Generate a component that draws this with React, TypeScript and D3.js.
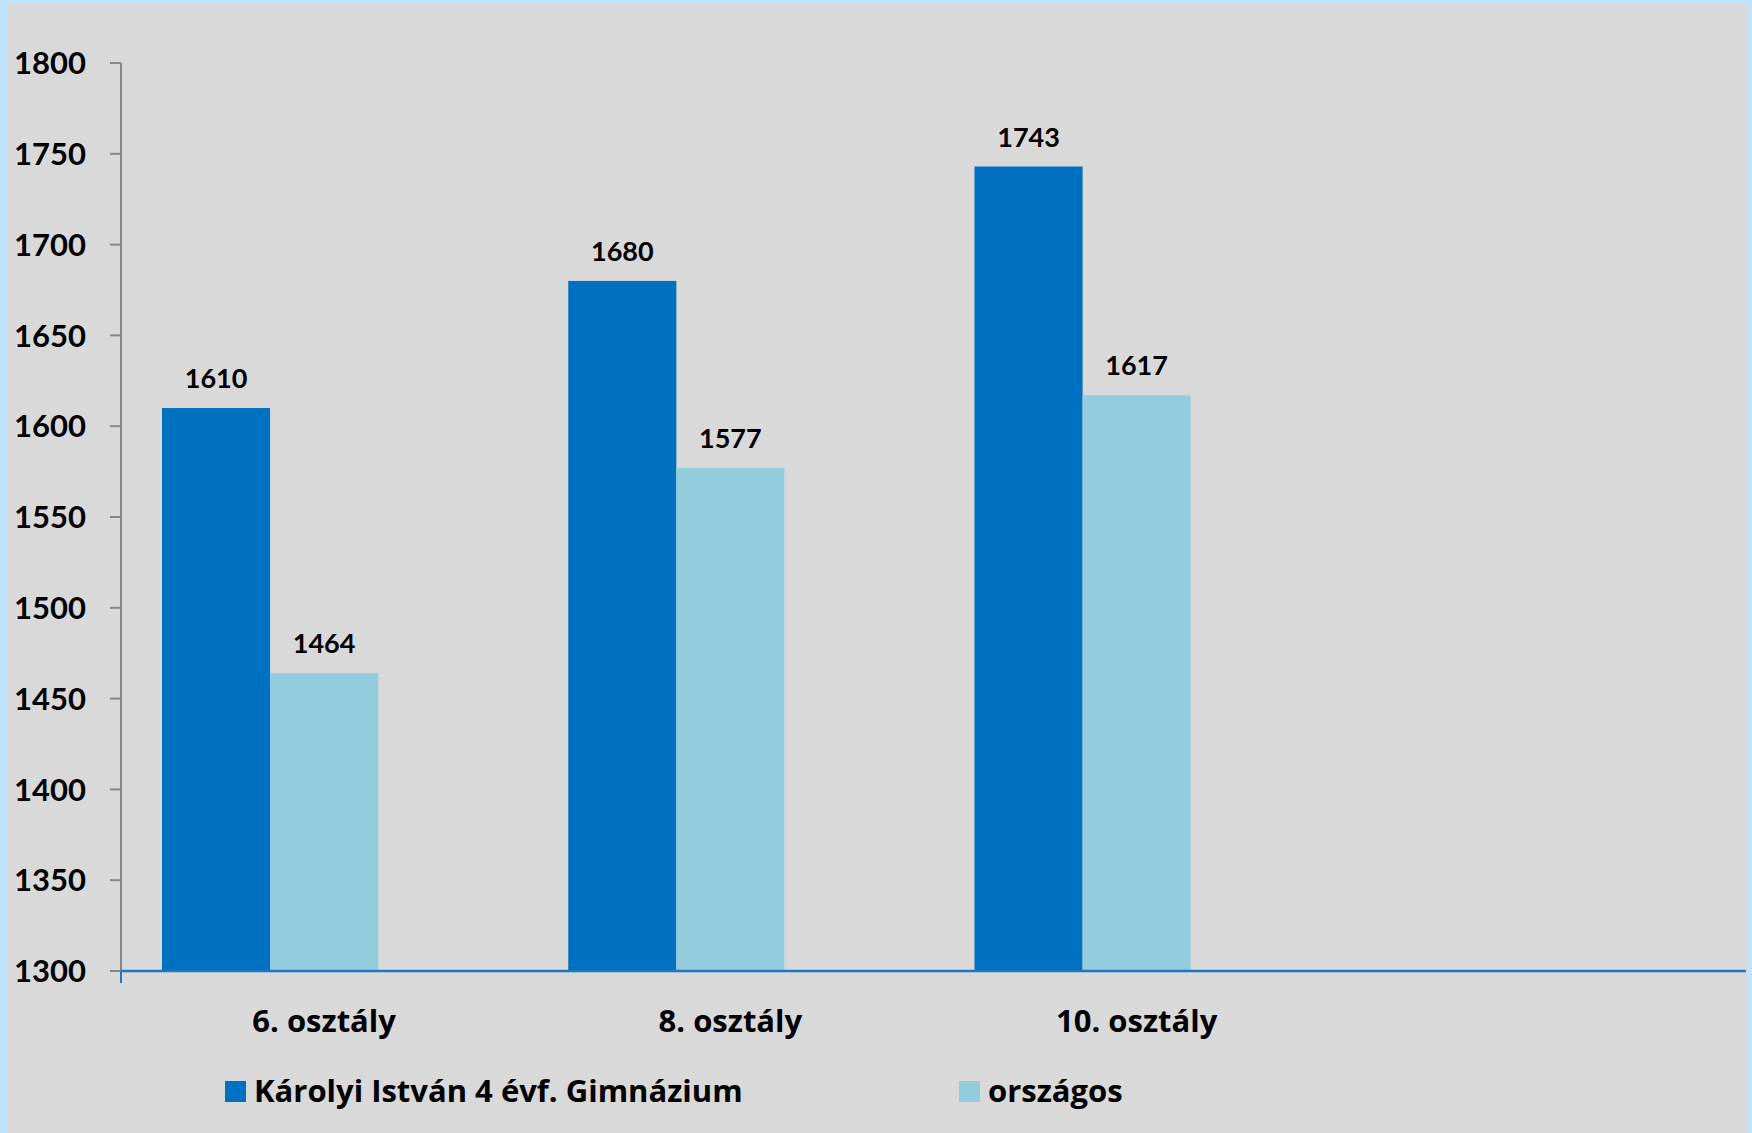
import React from "react";
import * as d3 from "d3";

const categories = ["6. osztály", "8. osztály", "10. osztály", ""];
const seriesNames = ["Károlyi István 4 évf. Gimnázium", "országos"];
const schoolValues = [1610, 1680, 1743];
const nationalValues = [1464, 1577, 1617];
const yTicks = [1300, 1350, 1400, 1450, 1500, 1550, 1600, 1650, 1700, 1750, 1800];
const seriesColors = ["#0070C0", "#93CDDD"];

const W = 1752;
const H = 1133;
const FONT = "Lato, 'Open Sans', sans-serif";
const TEXT_FONT = "'Open Sans', Lato, sans-serif";

export default function App() {
  const left = 121;
  const right = 1746;
  const top = 63;
  const bottom = 971;

  const x = d3.scaleBand<string>().domain(categories).range([left, right]).paddingInner(0).paddingOuter(0);
  // three slots per category (third slot empty, as in the original chart)
  const slots = ["s0", "s1", "s2"];
  const gapFrac = 82 / 406.25;
  const inner = d3
    .scaleBand<string>()
    .domain(slots)
    .range([x.bandwidth() * (gapFrac / 2), x.bandwidth() * (1 - gapFrac / 2)]);
  const y = d3.scaleLinear().domain([1300, 1800]).range([bottom, top]);

  const series = [schoolValues, nationalValues];

  return (
    <svg
      width={W}
      height={H}
      style={{ position: "absolute", left: 0, top: 0, display: "block" }}
    >
      <rect x={0} y={0} width={W} height={H} fill="#BEE3FB" />
      <rect x={7} y={4} width={1740} height={H - 4} fill="#D9D9D9" />

      {/* y axis */}
      <line x1={left} x2={left} y1={top} y2={bottom} stroke="#868686" strokeWidth={2} />
      {yTicks.map((t) => (
        <g key={t}>
          <line x1={left - 11} x2={left} y1={y(t)} y2={y(t)} stroke="#868686" strokeWidth={2} />
          <text
            x={86}
            y={y(t)}
            dy="0.36em"
            textAnchor="end"
            fontFamily={FONT}
            fontWeight={700}
            fontSize={31}
            fill="#000"
          >
            {t}
          </text>
        </g>
      ))}

      {/* bars */}
      {series.map((vals, si) =>
        vals.map((v, ci) => {
          const bx = (x(categories[ci]) as number) + (inner(slots[si]) as number);
          const bw = inner.bandwidth();
          return (
            <g key={`${si}-${ci}`}>
              <rect x={bx} y={y(v)} width={bw} height={bottom - y(v)} fill={seriesColors[si]} />
              <text
                x={bx + bw / 2}
                y={y(v) - 20}
                textAnchor="middle"
                fontFamily={FONT}
                fontWeight={700}
                fontSize={27}
                fill="#000"
              >
                {v}
              </text>
            </g>
          );
        })
      )}

      {/* x axis */}
      <line x1={left} x2={right} y1={bottom} y2={bottom} stroke="#1F77C4" strokeWidth={2.5} />
      <line x1={left} x2={left} y1={bottom} y2={bottom + 12} stroke="#1F77C4" strokeWidth={2} />
      {categories.map((c) => (
        <text
          key={c || "empty"}
          x={(x(c) as number) + x.bandwidth() / 2}
          y={1032}
          textAnchor="middle"
          fontFamily={TEXT_FONT}
          fontWeight={700}
          fontSize={31}
          fill="#000"
        >
          {c}
        </text>
      ))}

      {/* legend */}
      {seriesNames.map((n, i) => {
        const lx = i === 0 ? 225 : 959;
        return (
          <g key={n}>
            <rect x={lx} y={1081} width={21} height={21} fill={seriesColors[i]} />
            <text
              x={lx + 29}
              y={1102}
              fontFamily={TEXT_FONT}
              fontWeight={700}
              fontSize={31}
              fill="#000"
            >
              {n}
            </text>
          </g>
        );
      })}
    </svg>
  );
}
